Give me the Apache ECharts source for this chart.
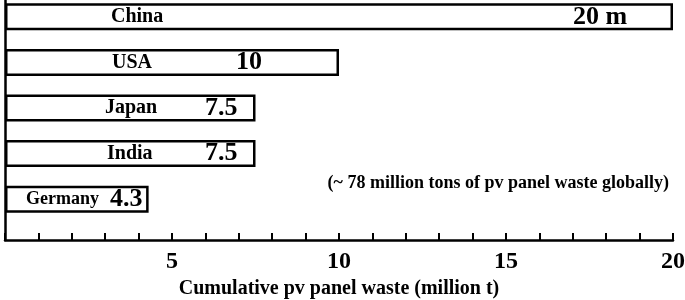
<!DOCTYPE html>
<html>
<head>
<meta charset="utf-8">
<script src="https://cdn.jsdelivr.net/npm/echarts@6/dist/echarts.min.js"></script>
<style>
  html, body { margin: 0; padding: 0; background: #fff; }
  #chart { width: 685px; height: 300px; }
</style>
</head>
<body>
<div id="chart"></div>
<script>
// 累计光伏组件废弃量 (百万吨)
const countries = ['China', 'USA', 'Japan', 'India', 'Germany']
const waste = [20, 10, 7.5, 7.5, 4.3]
const valueLabels = ['20 m', '10', '7.5', '7.5', '4.3']
const axisTitle = 'Cumulative pv panel waste (million t)'
const note = '(~ 78 million tons of pv panel waste globally)'

const serif = '"Liberation Serif", "Times New Roman", serif'

// where the name and the number sit inside each bar, px from the bar's left end
const labelX = {
  China: [106, 568],
  USA: [107, 231],
  Japan: [100, 200],
  India: [102, 200],
  Germany: [21, 105]
}

const barData = countries.map(function (c, i) {
  const lx = labelX[c]
  return {
    value: waste[i],
    label: {
      show: true,
      position: [lx[0], '50%'],
      align: 'left',
      verticalAlign: 'middle',
      formatter: '{n|' + c + '}{v|' + valueLabels[i] + '}',
      rich: {
        n: { width: lx[1] - lx[0], fontSize: c === 'Germany' ? 18 : 20, fontWeight: 'bold', fontFamily: serif, color: '#000' },
        v: { fontSize: 26, fontWeight: 'bold', fontFamily: serif, color: '#000' }
      }
    }
  }
})

const chart = echarts.init(document.getElementById('chart'))
chart.setOption({
  animation: false,
  backgroundColor: '#fff',
  grid: [
    { left: 5, right: 12, top: -6, bottom: 78, outerBoundsMode: 'none' },
    { left: 5, right: 12, top: -6, bottom: 60, outerBoundsMode: 'none' }
  ],
  xAxis: [
    { gridIndex: 0, type: 'value', min: 0, max: 20, show: false },
    {
      gridIndex: 1,
      type: 'value',
      min: 0,
      max: 20,
      interval: 1,
      axisLine: { show: true, lineStyle: { color: '#000', width: 2.5 } },
      axisTick: { show: true, inside: true, length: 7, lineStyle: { color: '#000', width: 2 } },
      axisLabel: {
        formatter: function (v) { return v > 0 && v % 5 === 0 ? String(v) : '' },
        fontSize: 24,
        fontWeight: 'bold',
        fontFamily: serif,
        color: '#000',
        margin: 10
      },
      splitLine: { show: false },
      name: axisTitle,
      nameLocation: 'middle',
      nameGap: 28,
      nameTextStyle: { fontSize: 20, fontWeight: 'bold', fontFamily: serif, color: '#000' }
    }
  ],
  yAxis: [
    {
      gridIndex: 0,
      type: 'category',
      inverse: true,
      data: countries,
      axisLine: { show: false },
      axisTick: { show: false },
      axisLabel: { show: false },
      splitLine: { show: false }
    },
    {
      gridIndex: 1,
      type: 'value',
      min: 0,
      max: 1,
      axisLine: { show: true, lineStyle: { color: '#000', width: 2.5 } },
      axisTick: { show: false },
      axisLabel: { show: false },
      splitLine: { show: false }
    }
  ],
  series: [
    {
      type: 'bar',
      xAxisIndex: 0,
      yAxisIndex: 0,
      barWidth: 27,
      itemStyle: { color: '#fff', borderColor: '#000', borderWidth: 2.5 },
      data: barData
    }
  ],
  graphic: [
    {
      type: 'text',
      right: 16,
      top: 174,
      style: { text: note, font: 'bold 18px ' + serif, fill: '#000' }
    }
  ]
})
</script>
</body>
</html>
